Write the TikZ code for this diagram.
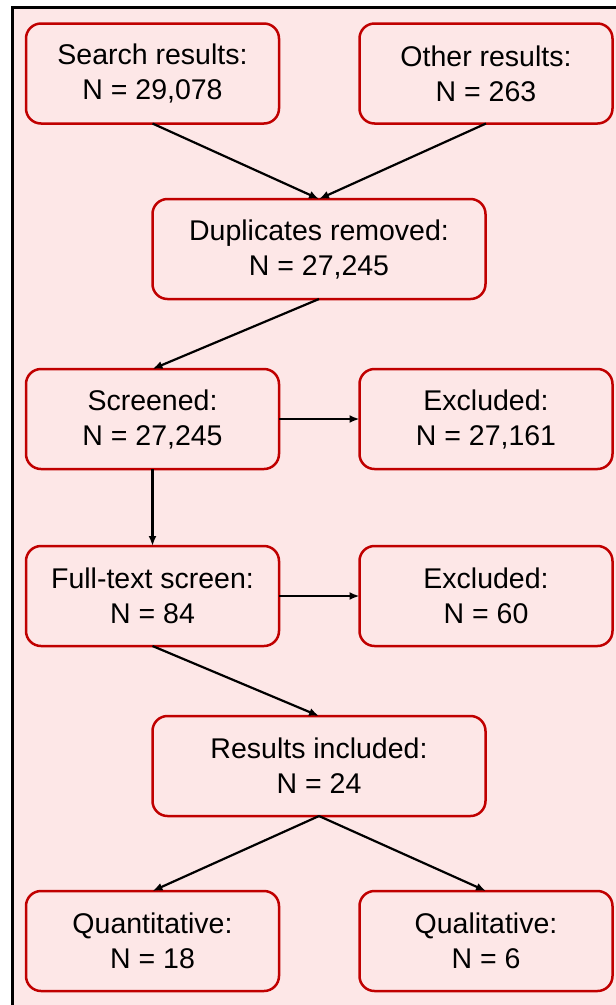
\documentclass[tikz,border=0pt]{standalone}
\usepackage{fontspec}
\setmainfont{Liberation Sans}
\usetikzlibrary{positioning,arrows.meta}
\definecolor{boxred}{RGB}{192,0,0}
\definecolor{bgpink}{RGB}{253,231,231}

\begin{document}
\begin{tikzpicture}[node distance={80.5pt}, line width=2.2pt,
        main/.style = {draw=boxred, line width=2.5pt, rounded corners=15pt, fill=bgpink, minimum width=253pt, minimum height=100pt, outer sep=0pt, align=center, font=\fontsize{28.5}{35}\selectfont},
        wide/.style = {minimum width=333pt},
        arr/.style = {-{Latex[length=10pt,width=8pt]}} ]
        \useasboundingbox (0,0) rectangle (616pt,-1005pt);
        \fill[bgpink] (12pt,-7pt) rectangle (616pt,-1005pt);
        \draw[line width=3pt] (616pt,-7pt) -- (12pt,-7pt) -- (12pt,-1005pt);

        \node[main] (search) at (152.5pt,-73.5pt) {Search results:\\N = 29,078};
        \node[main] (other) [right = of search] {Other results:\\N = 263};
        \node[main, wide] (dup) [below = 75.5pt of search.south east, xshift=40pt] {Duplicates removed:\\N = 27,245};
        \node[main] (screened) [below = 70pt of dup.south west, xshift=0pt] {Screened:\\N = 27,245};
        \node[main] (excl1) [right = of screened] {Excluded:\\N = 27,161};
        \node[main] (full) [below = 77pt of screened] {Full-text screen:\\N = 84};
        \node[main] (excl2) [right = of full] {Excluded:\\N = 60};
        \node[main, wide] (incl) [below = 70pt of full.south east, xshift=40pt] {Results included:\\N = 24};
        \node[main] (quant) [below = 75pt of incl.south west, xshift=0pt] {Quantitative:\\N = 18};
        \node[main] (qual) [right = of quant] {Qualitative:\\N = 6};

        \draw[arr] (search.south) -- (dup.north);
        \draw[arr] (other.south) -- (dup.north);
        \draw[arr] (dup.south) -- (screened.north);
        \draw[arr] (screened) -- (excl1);
        \draw[arr] (screened) -- (full);
        \draw[arr] (full) -- (excl2);
        \draw[arr] (full.south) -- (incl.north);
        \draw[arr] (incl.south) -- (quant.north);
        \draw[arr] (incl.south) -- (qual.north);

    \end{tikzpicture}
\end{document}
